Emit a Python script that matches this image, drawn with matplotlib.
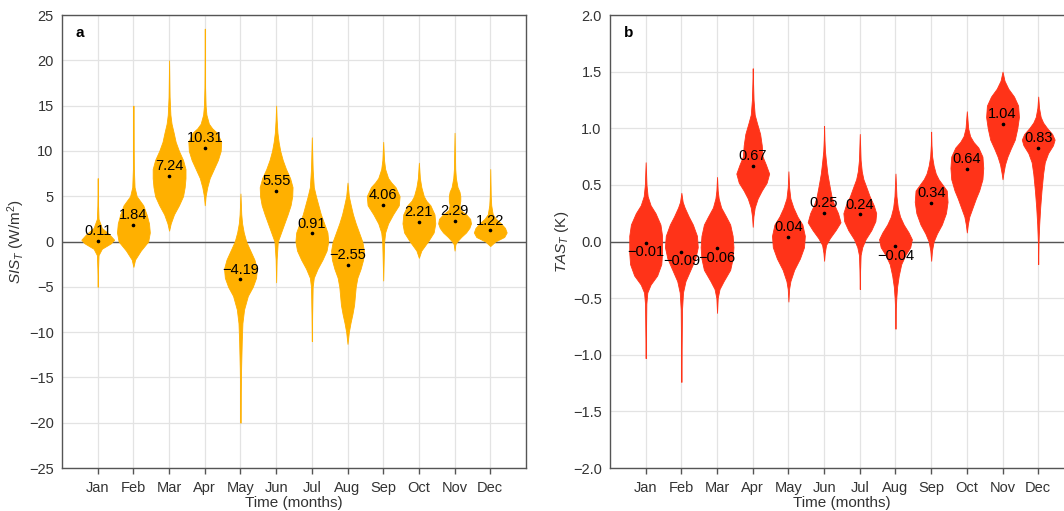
import matplotlib
matplotlib.use("Agg")
import matplotlib.pyplot as plt

plt.rcParams["font.family"] = ["Liberation Sans", "DejaVu Sans"]
plt.rcParams["mathtext.fontset"] = "custom"
plt.rcParams["mathtext.rm"] = "Liberation Sans"
plt.rcParams["mathtext.it"] = "Liberation Sans:italic"

MONTHS = ["Jan", "Feb", "Mar", "Apr", "May", "Jun",
          "Jul", "Aug", "Sep", "Oct", "Nov", "Dec"]

# monthly means shown above each violin
SIS_MEANS = [0.11, 1.84, 7.24, 10.31, -4.19, 5.55, 0.91, -2.55, 4.06, 2.21, 2.29, 1.22]
TAS_MEANS = [-0.01, -0.09, -0.06, 0.67, 0.04, 0.25, 0.24, -0.04, 0.34, 0.64, 1.04, 0.83]

# violin outlines: (value, relative density 0..1)
SIS_SHAPES = [
    [(-5, 0), (-3, .02), (-1.5, .05), (-.8, .25), (-.2, .8), (.2, 1), (.8, .7), (1.5, .25), (2.5, .05), (4, .02), (7, 0)],
    [(-2.8, 0), (-2, .1), (-1, .45), (0, .9), (1, 1), (2, .95), (3, .8), (4, .6), (5, .2), (6, .07), (8, .03), (10, .02), (15, 0)],
    [(1.2, 0), (2, .1), (3, .3), (4, .6), (5, .85), (6, .95), (7, 1), (8, 1), (9, .85), (10, .6), (11, .4), (12, .28), (13, .15), (14, .08), (16, .03), (20, 0)],
    [(4, 0), (5, .05), (6, .15), (7, .3), (8, .55), (9, .8), (10, .97), (11, 1), (12, .75), (12.5, .45), (13, .25), (14, .1), (15, .05), (17, .02), (23.5, 0)],
    [(-20, 0), (-17, .02), (-14, .04), (-11, .08), (-9, .12), (-7.5, .22), (-6, .45), (-5, .75), (-4, .95), (-3, 1), (-2, .85), (-1, .6), (0, .35), (1, .2), (2, .1), (3, .05), (5.3, 0)],
    [(-4.5, 0), (-2, .03), (0, .1), (1, .3), (2, .5), (3, .7), (4, .88), (5, .98), (6, 1), (7, .85), (8, .6), (9, .4), (10, .25), (11, .15), (12, .08), (13.5, .03), (15, 0)],
    [(-11, 0), (-8, .02), (-5, .05), (-4, .12), (-3, .35), (-2, .65), (-1, .9), (0, 1), (1, .95), (2, .75), (3, .55), (4, .4), (5, .25), (6, .12), (8, .05), (11.5, 0)],
    [(-11.3, 0), (-10, .08), (-9, .18), (-8, .3), (-7, .4), (-6, .45), (-5, .5), (-4, .6), (-3, .8), (-2, .95), (-1, 1), (0, .9), (1, .7), (2, .5), (3, .33), (4, .2), (5, .08), (6.5, 0)],
    [(-4.3, 0), (-2, .03), (0, .06), (1, .12), (2, .3), (3, .6), (4, .95), (5, 1), (6, .75), (6.5, .5), (7, .3), (8, .12), (9, .05), (11, 0)],
    [(-1.8, 0), (-1, .15), (0, .55), (1, .9), (2, 1), (3, .95), (4, .7), (4.5, .45), (5, .3), (6, .15), (7, .06), (8.7, 0)],
    [(-1, 0), (-.3, .05), (0, .15), (.5, .4), (1, .7), (1.5, .9), (2, 1), (2.5, .95), (3, .7), (3.5, .35), (4, .3), (4.5, .35), (5, .35), (5.5, .3), (6, .18), (7, .08), (8, .04), (12, 0)],
    [(-.5, 0), (0, .3), (.5, .85), (1, 1), (1.5, .9), (2, .65), (2.5, .35), (3, .15), (4, .06), (5, .03), (8, 0)],
]
TAS_SHAPES = [
    [(-1.03, 0), (-.8, .02), (-.55, .04), (-.45, .1), (-.38, .3), (-.3, .7), (-.2, .95), (-.1, 1), (.05, 1), (.15, .9), (.25, .6), (.32, .3), (.4, .12), (.5, .05), (.7, 0)],
    [(-1.24, 0), (-.9, .02), (-.6, .04), (-.45, .1), (-.35, .25), (-.25, .55), (-.15, .85), (-.05, 1), (.05, .95), (.15, .7), (.22, .45), (.3, .2), (.35, .08), (.43, 0)],
    [(-.63, 0), (-.5, .04), (-.42, .15), (-.35, .4), (-.25, .8), (-.15, .95), (-.05, 1), (.05, .95), (.15, .8), (.22, .55), (.3, .25), (.38, .1), (.45, .04), (.57, 0)],
    [(.13, 0), (.22, .04), (.3, .12), (.38, .3), (.45, .55), (.52, .85), (.6, 1), (.68, .8), (.75, .6), (.85, .55), (.95, .45), (1.05, .25), (1.12, .12), (1.25, .05), (1.4, .02), (1.53, 0)],
    [(-.53, 0), (-.42, .04), (-.35, .12), (-.25, .35), (-.15, .7), (-.05, .95), (.05, 1), (.15, .85), (.22, .55), (.3, .3), (.38, .12), (.48, .04), (.62, 0)],
    [(-.17, 0), (-.1, .04), (-.03, .12), (.03, .35), (.1, .7), (.17, 1), (.25, .85), (.33, .6), (.4, .45), (.5, .32), (.6, .2), (.7, .12), (.8, .05), (.9, .02), (1.02, 0)],
    [(-.42, 0), (-.25, .02), (-.12, .05), (-.05, .15), (.02, .35), (.1, .7), (.18, .95), (.25, 1), (.32, .85), (.4, .6), (.48, .4), (.55, .22), (.62, .12), (.72, .05), (.95, 0)],
    [(-.77, 0), (-.6, .02), (-.5, .05), (-.4, .1), (-.3, .2), (-.2, .35), (-.12, .6), (-.05, .9), (.02, 1), (.08, .8), (.15, .5), (.22, .28), (.3, .14), (.4, .06), (.6, 0)],
    [(-.17, 0), (-.08, .05), (0, .15), (.07, .35), (.15, .65), (.25, .9), (.35, 1), (.45, .95), (.5, .7), (.55, .45), (.6, .28), (.67, .15), (.75, .06), (.85, .02), (.97, 0)],
    [(.08, 0), (.15, .06), (.22, .15), (.3, .35), (.38, .55), (.45, .75), (.55, .95), (.65, 1), (.75, .95), (.83, .7), (.88, .4), (.93, .2), (1.0, .08), (1.15, 0)],
    [(.55, 0), (.6, .05), (.68, .15), (.75, .3), (.82, .5), (.9, .75), (1.0, .9), (1.1, 1), (1.2, .95), (1.28, .7), (1.35, .35), (1.42, .12), (1.5, 0)],
    [(-.2, 0), (0, .02), (.15, .06), (.3, .12), (.45, .2), (.6, .3), (.7, .4), (.78, .6), (.85, .9), (.9, 1), (.95, .85), (1.0, .55), (1.05, .3), (1.1, .15), (1.18, .05), (1.28, 0)],
]

HALF_W = 0.46
SPINE = "#555555"


def panel(ax, shapes, means, color, ylim, yticks, ylabel, tag, neg_below):
    pos = list(range(1, len(MONTHS) + 1))
    ax.set_axisbelow(True)
    ax.grid(True, color="#e3e3e3", lw=0.9)
    ax.axhline(0, color=SPINE, lw=1.0, zorder=1)
    for p, shp, m in zip(pos, shapes, means):
        ys = [s[0] for s in shp]
        ws = [s[1] * HALF_W for s in shp]
        ax.fill_betweenx(ys, [p - w for w in ws], [p + w for w in ws],
                         color=color, lw=0.6, ec=color, zorder=2)
        ax.plot(p, m, "o", ms=1.6, color="black", zorder=3)
        txt = f"{m:.2f}".replace("-", "\u2212")
        if neg_below and m < 0:
            dy, va = -2, "top"
        else:
            dy, va = 2, "bottom"
        ax.annotate(txt, (p, m), xytext=(0, dy), textcoords="offset points",
                    ha="center", va=va, fontsize=10.5, zorder=4)
    ax.set_xlim(0, 13)
    ax.set_ylim(*ylim)
    ax.set_xticks(pos)
    ax.set_xticklabels(MONTHS)
    ax.set_yticks(yticks)
    ax.set_yticklabels([(f"{v:.1f}" if isinstance(v, float) else f"{v}").replace("-", "\u2212")
                        for v in yticks])
    ax.tick_params(axis="x", length=4, width=1, color=SPINE, labelsize=10.5,
                   labelcolor="#333333", pad=5)
    ax.tick_params(axis="y", length=0, labelsize=10.5, labelcolor="#333333", pad=6)
    for sp in ax.spines.values():
        sp.set_color(SPINE)
        sp.set_linewidth(1.0)
    ax.set_xlabel("Time (months)", fontsize=11, color="#333333", labelpad=1)
    ax.set_ylabel(ylabel, fontsize=11, color="#333333", labelpad=1)
    ax.text(0.03, 0.975, tag, transform=ax.transAxes, fontsize=11,
            fontweight="bold", va="top", ha="left")


fig = plt.figure(figsize=(10.64, 5.11), dpi=100)
ax_a = fig.add_axes([0.0583, 0.0841, 0.436, 0.8865])
ax_b = fig.add_axes([0.5733, 0.0841, 0.436, 0.8865])

panel(ax_a, SIS_SHAPES, SIS_MEANS, "#FFB000", (-25, 25), list(range(-25, 26, 5)),
      r"$SIS_T$ (W/m$^2$)", "a", False)
panel(ax_b, TAS_SHAPES, TAS_MEANS, "#FF3318", (-2, 2),
      [-2.0, -1.5, -1.0, -0.5, 0.0, 0.5, 1.0, 1.5, 2.0], r"$TAS_T$ (K)", "b", True)

fig.savefig("out.png", dpi=100)
